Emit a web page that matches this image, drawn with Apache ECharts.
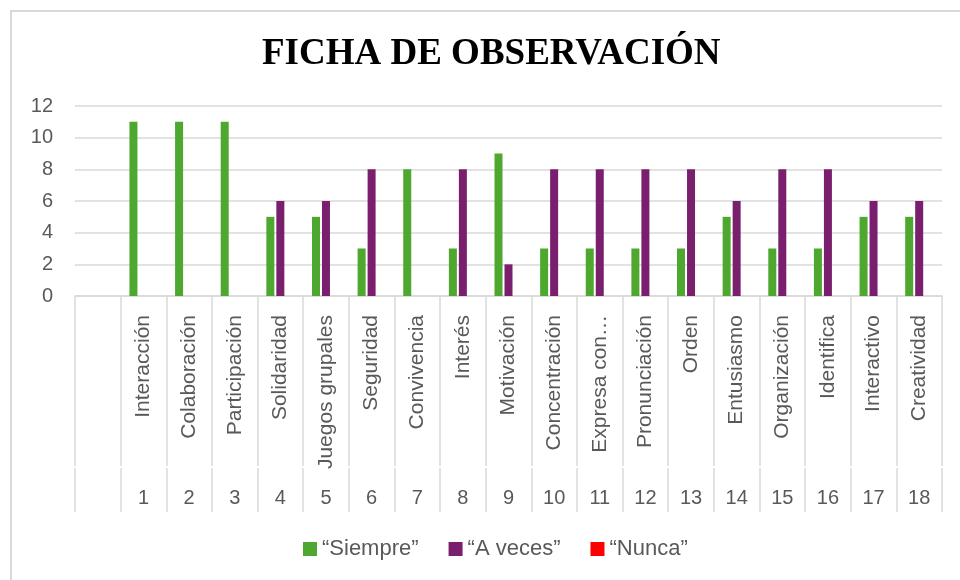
<!DOCTYPE html>
<html>
<head>
<meta charset="utf-8">
<script src="https://cdn.jsdelivr.net/npm/echarts@6/dist/echarts.min.js"></script>
<style>
html,body{margin:0;padding:0;background:#fff;}
#main{width:960px;height:580px;}
</style>
</head>
<body>
<div id="main"></div>
<script>
// datos de la ficha
var items = ['', 'Interacción', 'Colaboración', 'Participación', 'Solidaridad', 'Juegos grupales',
	'Seguridad', 'Convivencia', 'Interés', 'Motivación', 'Concentración', 'Expresa con…',
	'Pronunciación', 'Orden', 'Entusiasmo', 'Organización', 'Identifica', 'Interactivo', 'Creatividad'];
var numeros = ['', '1', '2', '3', '4', '5', '6', '7', '8', '9', '10', '11', '12', '13', '14', '15', '16', '17', '18'];
var siempre = [null, 11, 11, 11, 5, 5, 3, 8, 3, 9, 3, 3, 3, 3, 5, 3, 3, 5, 5];
var aVeces  = [null, 0, 0, 0, 6, 6, 8, 0, 8, 2, 8, 8, 8, 8, 6, 8, 8, 6, 6];
var nunca   = [null, 0, 0, 0, 0, 0, 0, 0, 0, 0, 0, 0, 0, 0, 0, 0, 0, 0, 0];
var yTicks  = [0, 2, 4, 6, 8, 10, 12];

var gris = '#595959';
var linea = '#d9d9d9';
var fuente = '"Liberation Sans", Arial, sans-serif';

var myChart = echarts.init(document.getElementById('main'));
var option = {
	animation: false,
	title: {
		text: 'FICHA DE OBSERVACIÓN',
		left: 257,
		top: 31,
		textStyle: {
			fontFamily: '"Liberation Serif", "Times New Roman", serif',
			fontWeight: 'bold',
			fontSize: 37,
			color: '#000'
		}
	},
	legend: {
		bottom: 15,
		left: 298,
		itemWidth: 14,
		itemHeight: 14,
		itemGap: 30,
		icon: 'rect',
		textStyle: { color: gris, fontSize: 22, fontFamily: fuente },
		data: ['“Siempre”', '“A veces”', '“Nunca”']
	},
	grid: { left: 75, right: 18, top: 106, bottom: 284, containLabel: false },
	xAxis: [
		{
			type: 'category',
			data: items,
			axisLine: { lineStyle: { color: linea, width: 1.5 } },
			axisTick: { show: true, length: 170, lineStyle: { color: linea, width: 1.5 } },
			axisLabel: { rotate: 90, margin: 19, interval: 0, color: gris, fontSize: 21, fontFamily: fuente }
		},
		{
			type: 'category',
			position: 'bottom',
			offset: 172,
			data: numeros,
			axisLine: { show: false },
			axisTick: { show: true, length: 44, lineStyle: { color: linea, width: 1.5 } },
			axisLabel: { margin: 20, interval: 0, color: gris, fontSize: 20, fontFamily: fuente }
		}
	],
	yAxis: {
		type: 'value',
		min: yTicks[0],
		max: yTicks[yTicks.length - 1],
		interval: 2,
		axisLine: { show: false },
		axisTick: { show: false },
		splitLine: { lineStyle: { color: linea, width: 1.5 } },
		axisLabel: { margin: 22, color: gris, fontSize: 20, fontFamily: fuente }
	},
	series: [
		{ name: '“Siempre”', type: 'bar', data: siempre, barWidth: 8, barGap: '25%', itemStyle: { color: '#4ea72e' } },
		{ name: '“A veces”', type: 'bar', data: aVeces, barWidth: 8, barGap: '25%', itemStyle: { color: '#7a1f6e' } },
		{ name: '“Nunca”', type: 'bar', data: nunca, barWidth: 8, barGap: '25%', itemStyle: { color: '#ff0000' } }
	],
	graphic: [
		{ type: 'line', shape: { x1: 11, y1: 11, x2: 960, y2: 11 }, style: { stroke: linea, lineWidth: 2 } },
		{ type: 'line', shape: { x1: 11, y1: 10, x2: 11, y2: 580 }, style: { stroke: linea, lineWidth: 2 } }
	]
};
myChart.setOption(option);
</script>
</body>
</html>
